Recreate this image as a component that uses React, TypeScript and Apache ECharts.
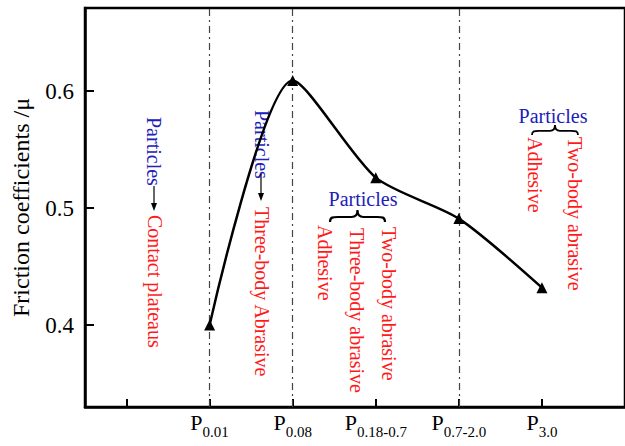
import React, { useEffect, useRef } from "react";
import * as echarts from "echarts";

const xSubs = ["0.01", "0.08", "0.18-0.7", "0.7-2.0", "3.0"];
const xPositions = [1, 2, 3, 4, 5];
const xTickPositions = [0, 1, 2, 3, 4, 5];
const frictionValues = [0.4, 0.609, 0.526, 0.491, 0.432];
const yTicks = [0.4, 0.5, 0.6];
const dividerPositions = [1, 2, 4];

const SERIF = "Liberation Serif, Times New Roman, serif";
const RED = "#ff1a1a";
const BLUE = "#2020b8";

const BRACE_D =
  "M0,12 C0,7 3,7 8,7 L22,7 C26,7 28,5 28,0 C28,5 30,7 34,7 L48,7 C53,7 56,7 56,12";

let braceRegistered = false;

function vText(text: string, x: number, y: number, color: string) {
  return {
    type: "text",
    x,
    y,
    rotation: -Math.PI / 2,
    style: {
      text,
      fill: color,
      fontSize: 20,
      fontFamily: SERIF,
      align: "left",
      verticalAlign: "middle",
    },
  };
}

function hText(text: string, x: number, y: number, color: string) {
  return {
    type: "text",
    x,
    y,
    style: {
      text,
      fill: color,
      fontSize: 20,
      fontFamily: SERIF,
      align: "center",
      verticalAlign: "middle",
    },
  };
}

function arrow(x: number, y1: number, y2: number) {
  return [
    {
      type: "line",
      shape: { x1: x, y1, x2: x, y2: y2 - 6 },
      style: { stroke: "#000", lineWidth: 1.2 },
    },
    {
      type: "polygon",
      shape: {
        points: [
          [x - 3, y2 - 8],
          [x + 3, y2 - 8],
          [x, y2],
        ],
      },
      style: { fill: "#000" },
    },
  ];
}

function brace(x: number, y: number, w: number, h: number) {
  return {
    type: "brace",
    x,
    y,
    scaleX: w / 56,
    scaleY: h / 12,
    style: { stroke: "#000", fill: "none", lineWidth: 2.2 },
  };
}

export default function App() {
  const ref = useRef<HTMLDivElement>(null);

  useEffect(() => {
    if (!ref.current) return;
    if (!braceRegistered) {
      echarts.graphic.registerShape(
        "brace",
        echarts.graphic.extendPath(BRACE_D, {}) as any
      );
      braceRegistered = true;
    }
    const chart = echarts.init(ref.current, undefined, { renderer: "svg" });
    const data = xPositions.map((x, i) => [x, frictionValues[i]]);

    chart.setOption({
      animation: false,
      backgroundColor: "#fff",
      textStyle: { fontFamily: SERIF },
      grid: {
        left: 85,
        top: 8,
        right: -22,
        bottom: 39,
        show: true,
        borderColor: "#000",
        borderWidth: 2.5,
      },
      xAxis: {
        type: "value",
        min: -0.5,
        max: 6,
        splitLine: { show: false },
        axisLine: { onZero: false, lineStyle: { color: "#000", width: 2.5 } },
        axisTick: {
          inside: true,
          length: 8,
          customValues: xTickPositions,
          lineStyle: { color: "#000", width: 2 },
        },
        axisLabel: {
          customValues: xPositions,
          margin: 4,
          formatter: (v: number) => {
            const i = Math.round(v) - 1;
            return `{p|P}{s|${xSubs[i]}}`;
          },
          rich: {
            p: {
              fontSize: 22,
              fontFamily: SERIF,
              color: "#000",
              lineHeight: 28,
              verticalAlign: "top",
            },
            s: {
              fontSize: 15,
              fontFamily: SERIF,
              color: "#000",
              lineHeight: 28,
              verticalAlign: "bottom",
            },
          },
        },
      },
      yAxis: {
        type: "value",
        min: 0.33,
        max: 0.671,
        name: "Friction coefficients /\u03bc",
        nameLocation: "middle",
        nameGap: 52,
        nameTextStyle: { fontFamily: SERIF, fontSize: 24, color: "#000" },
        splitLine: { show: false },
        axisLine: {
          show: true,
          onZero: false,
          lineStyle: { color: "#000", width: 2.5 },
        },
        axisTick: {
          inside: true,
          length: 9,
          customValues: yTicks,
          lineStyle: { color: "#000", width: 2 },
        },
        axisLabel: {
          customValues: yTicks,
          margin: 11,
          fontFamily: SERIF,
          fontSize: 23,
          color: "#000",
          formatter: (v: number) => v.toFixed(1),
        },
      },
      series: [
        {
          type: "line",
          data,
          smooth: 0.25,
          symbol: "triangle",
          symbolSize: 11,
          itemStyle: { color: "#000" },
          lineStyle: { color: "#000", width: 2.5 },
          z: 5,
          markLine: {
            silent: true,
            symbol: ["none", "none"],
            label: { show: false },
            lineStyle: { color: "#444", width: 1.2, type: [7, 4, 2, 4] },
            data: dividerPositions.map((x) => ({ xAxis: x })),
            z: 1,
          },
        },
      ],
      graphic: [
        vText("Particles", 154, 117, BLUE),
        ...arrow(154, 186, 211),
        vText("Contact plateaus", 155, 215, RED),

        vText("Particles", 262, 110, BLUE),
        ...arrow(261, 174, 201),
        vText("Three-body Abrasive", 262, 207, RED),

        hText("Particles", 363, 199, BLUE),
        brace(330, 210, 55, 12),
        vText("Adhesive", 325, 225, RED),
        vText("Three-body abrasive", 357, 228, RED),
        vText("Two-body abrasive", 389, 227, RED),

        hText("Particles", 553, 116, BLUE),
        brace(532, 125, 46, 10),
        vText("Adhesive", 535, 137, RED),
        vText("Two-body abrasive", 575, 137, RED),
      ],
    });
    return () => chart.dispose();
  }, []);

  return (
    <div
      ref={ref}
      style={{ position: "fixed", left: 0, top: 0, width: 625, height: 446 }}
    />
  );
}
